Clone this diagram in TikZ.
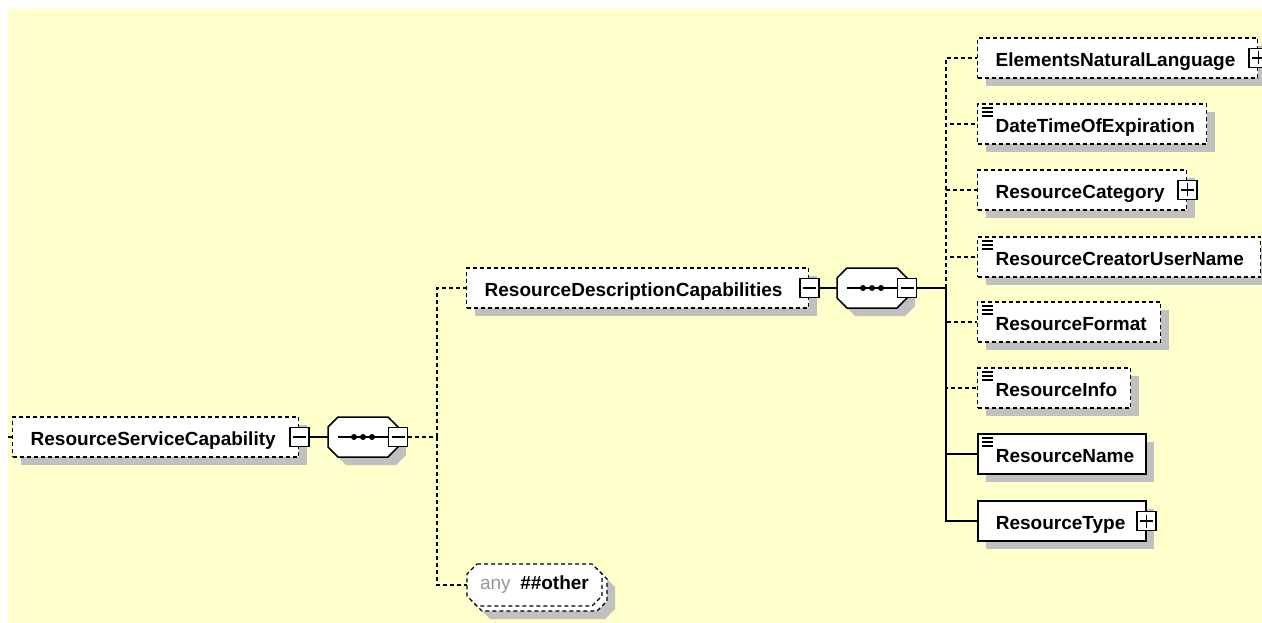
\documentclass[tikz,border=0pt]{standalone}
\usepackage{fontspec}
\setmainfont{Liberation Sans}
\usepackage{xcolor}
\usepackage{tikz}
\usetikzlibrary{
    positioning,
    shadows,
    calc
}
\definecolor{xsdYellow}{RGB}{255, 255, 204}
\definecolor{xsdShadow}{RGB}{192, 192, 192}
\definecolor{xsdGray}{RGB}{150, 150, 160}

\begin{document}
\begin{tikzpicture}[x=1pt, y=-1pt,
    font=\fontsize{19}{22}\selectfont\bfseries,
    boxShadow/.style={general shadow={fill=xsdShadow, shadow xshift=8pt, shadow yshift=-8pt}},
    elem/.style={draw, solid, fill=white, line width=1.6pt, anchor=west, minimum height=40pt,
        inner xsep=18pt, inner ysep=0pt, align=left, text height=17pt, text depth=0pt, boxShadow},
    optElem/.style={elem, dash pattern=on 4pt off 3pt, line width=1.4pt},
    doc/.style={path picture={
        \foreach \k in {0,1,2}
            \draw[solid, black, line width=1.2pt] ([xshift=4pt, yshift={-4pt-4pt*\k}]path picture bounding box.north west) -- ++(11pt,0);
    }},
    pmBox/.style={draw, solid, fill=white, line width=1.5pt, minimum size=19pt, inner sep=0pt},
    minusBox/.style={pmBox, path picture={
        \draw[black, line width=1.5pt] ([xshift=3pt]path picture bounding box.west) -- ([xshift=-3pt]path picture bounding box.east);
    }},
    plusBox/.style={pmBox, path picture={
        \draw[black, line width=1.5pt] ([xshift=3pt]path picture bounding box.west) -- ([xshift=-3pt]path picture bounding box.east)
            ([yshift=-3pt]path picture bounding box.north) -- ([yshift=3pt]path picture bounding box.south);
    }},
    seqBox/.style={minimum width=70pt, minimum height=40pt, inner sep=0pt},
    octShadow/.style={fill=xsdShadow},
    octLine/.style={draw, fill=white, line width=1.5pt},
    anyLine/.style={draw, fill=white, line width=1.4pt, dash pattern=on 4pt off 3pt},
    anyBox/.style={minimum width=135pt, minimum height=42pt, inner sep=0pt},
    dashLine/.style={line width=1.4pt, dash pattern=on 4pt off 3pt},
    solidLine/.style={line width=1.8pt}
]
    \useasboundingbox (0,0) rectangle (1262,623);
    \fill[xsdYellow] (8,9) rectangle (1262,623);

    % compositor octagons and the any wildcard
    \foreach \cx/\cy/\sty in {371/445/octShadow, 363/437/octLine, 880/296/octShadow, 872/288/octLine}
        \path[\sty, shift={(\cx,\cy)}] (-25,-20) -- (25,-20) -- (35,-10) -- (35,10) -- (25,20) -- (-25,20) -- (-35,10) -- (-35,-10) -- cycle;
    \foreach \dx/\dy/\sty in {13/13/octShadow, 5/5/anyLine, 0/0/anyLine}
        \path[\sty, shift={(\dx,\dy)}] (477,564) -- (592,564) -- (602,574) -- (602,596) -- (592,606) -- (477,606) -- (467,596) -- (467,574) -- cycle;

    % root element
    \coordinate (in) at (8,437);
    \node[optElem, text width=250pt] (rsc) at (12,437) {ResourceServiceCapability};
    \node[minusBox] (rscM) at (rsc.east) {};
    \node[seqBox] (seq1) at (363,437) {};
    \node[minusBox] (seq1M) at (seq1.east) {};
    \coordinate (j1) at (437,437);

    % first level
    \node[optElem, text width=306pt] (rdc) at (466,288) {ResourceDescriptionCapabilities};
    \node[minusBox] (rdcM) at (rdc.east) {};
    \node[seqBox] (seq2) at (872,288) {};
    \node[minusBox] (seq2M) at (seq2.east) {};
    \coordinate (j2) at (946,288);
    \node[anyBox] (any) at (534.5,585) {{\mdseries\color{xsdGray}any}\enspace\#\#other};

    % compositor bars
    \foreach \s in {seq1, seq2} {
        \draw[solidLine] ([xshift=10pt]\s.west) -- ([xshift=-10pt]\s.east);
        \foreach \d in {-9,0,9}
            \fill[black] ([xshift=\d pt]\s.center) circle (3pt);
    }

    % second level
    \node[optElem, text width=244pt] (eln) at (977,58) {ElementsNaturalLanguage};
    \node[plusBox] (elnP) at (eln.east) {};
    \node[optElem, doc, text width=193pt] (dte) at (977,124) {DateTimeOfExpiration};
    \node[optElem, text width=173pt] (rcat) at (977,190) {ResourceCategory};
    \node[plusBox] (rcatP) at (rcat.east) {};
    \node[optElem, doc, text width=247pt] (rcun) at (977,257) {ResourceCreatorUserName};
    \node[optElem, doc, text width=147pt] (rfmt) at (977,322) {ResourceFormat};
    \node[optElem, doc, text width=117pt] (rinfo) at (977,388) {ResourceInfo};
    \node[elem, doc, text width=132pt] (rname) at (977,454) {ResourceName};
    \node[elem, text width=132pt] (rtype) at (977,521) {ResourceType};
    \node[plusBox] (rtypeP) at (rtype.east) {};

    % connectors
    \draw[dashLine] (in) -- (rsc.west);
    \draw[solidLine] (rscM.east) -- (seq1.west);
    \draw[dashLine] (seq1M.east) -- (j1);
    \draw[dashLine] (j1) |- (rdc.west);
    \draw[dashLine] (j1) |- (any.west);
    \draw[solidLine] (rdcM.east) -- (seq2.west);
    \draw[solidLine] (seq2M.east) -- (j2);
    \foreach \c in {eln, dte, rcat, rcun, rfmt, rinfo}
        \draw[dashLine] (j2) |- (\c.west);
    \foreach \c in {rname, rtype}
        \draw[solidLine] (j2) |- (\c.west);
\end{tikzpicture}
\end{document}
